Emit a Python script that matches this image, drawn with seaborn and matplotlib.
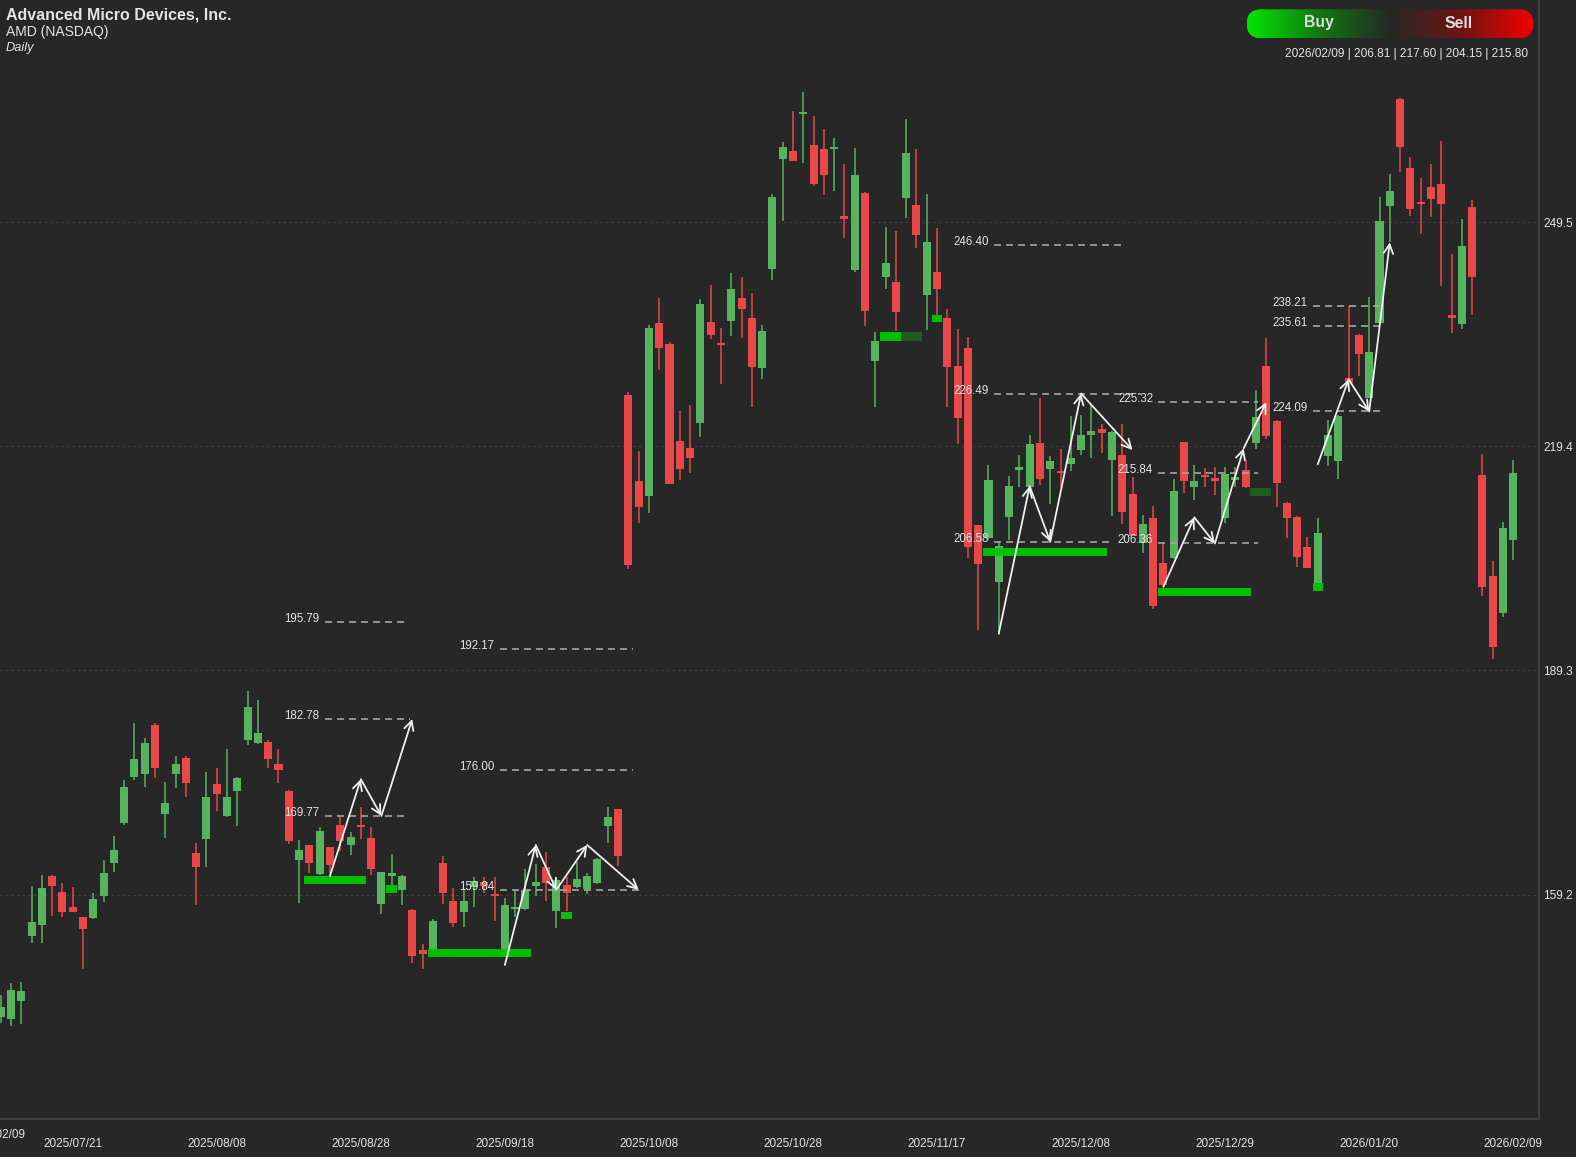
import numpy as np
import pandas as pd
import matplotlib.pyplot as plt
import seaborn as sns
from matplotlib.patches import FancyBboxPatch

# ============================================================
# DATA  (AMD daily candles)
# ============================================================
opens = [142.8, 142.45, 144.95, 153.6, 155.1, 161.7, 159.55, 157.5, 156.15, 156.0,
         159.0, 163.4, 168.85, 175.0, 175.4, 182.0, 170.0, 175.35, 177.5, 164.8,
         166.7, 174.0, 169.8, 173.15, 179.9, 179.6, 179.7, 176.75, 173.1, 163.9,
         165.8, 161.95, 165.55, 168.55, 165.85, 168.5, 166.75, 157.9, 161.7, 159.8,
         157.1, 151.76, 151.85, 163.5, 158.34, 156.9, 160.2, 160.9, 159.3, 150.8,
         157.2, 157.27, 160.4, 162.95, 157.04, 160.5, 160.26, 159.9, 160.8, 168.45,
         170.65, 226.3, 214.75, 212.7, 236.0, 233.2, 220.1, 219.2, 222.5, 236.1,
         233.2, 236.3, 239.3, 236.6, 229.96, 243.2, 258.0, 259.05, 264.0, 259.87,
         259.3, 259.3, 250.3, 243.05, 253.4, 230.86, 242.1, 241.5, 252.75, 251.84,
         239.7, 242.76, 236.7, 230.2, 232.57, 208.84, 207.05, 201.2, 209.95, 216.2,
         213.9, 219.9, 216.3, 216.1, 217.0, 218.9, 220.9, 221.7, 217.6, 218.3,
         212.96, 206.46, 209.8, 203.78, 204.36, 219.94, 213.98, 215.5, 215.0, 209.8,
         214.85, 216.22, 219.81, 230.23, 222.8, 211.83, 209.95, 205.84, 201.0, 218.1,
         217.45, 228.6, 234.34, 225.96, 235.96, 251.62, 266.0, 256.77, 252.2, 254.25,
         254.65, 236.9, 235.8, 251.5, 215.6, 201.96, 197.06, 206.81]
highs = [145.7, 147.3, 147.5, 160.3, 161.8, 161.8, 160.7, 160.2, 156.2, 159.4,
         163.85, 167.1, 174.6, 182.2, 180.2, 182.3, 174.3, 177.8, 177.8, 166.1,
         175.6, 176.2, 178.7, 175.0, 186.6, 185.3, 179.95, 178.7, 173.2, 166.5,
         165.9, 168.3, 165.6, 169.65, 167.57, 170.9, 168.3, 162.3, 164.65, 161.8,
         157.2, 152.57, 155.9, 164.4, 160.05, 159.9, 161.6, 161.5, 161.5, 158.7,
         159.8, 162.6, 163.27, 164.96, 161.6, 161.6, 163.6, 162.1, 164.07, 170.9,
         170.7, 226.7, 218.8, 235.7, 239.3, 233.4, 224.15, 224.9, 239.15, 241.1,
         235.25, 242.7, 242.2, 240.0, 235.7, 253.25, 260.3, 264.45, 266.95, 263.74,
         262.0, 260.8, 257.3, 259.5, 253.5, 234.7, 248.8, 248.3, 263.4, 259.4,
         253.3, 248.7, 237.9, 235.2, 234.1, 208.9, 216.9, 206.6, 215.4, 218.2,
         220.9, 225.85, 218.1, 219.0, 223.5, 223.6, 224.95, 222.4, 221.4, 222.4,
         215.26, 210.2, 211.4, 206.29, 215.0, 220.0, 216.9, 216.5, 216.67, 216.67,
         216.67, 217.57, 226.97, 233.9, 222.9, 211.9, 210.0, 207.2, 209.8, 223.0,
         223.55, 238.2, 234.45, 239.4, 252.9, 256.0, 266.2, 258.2, 255.5, 257.3,
         260.46, 245.2, 249.95, 252.5, 218.4, 204.0, 209.3, 217.60]
lows = [141.9, 141.5, 141.8, 152.7, 152.7, 156.3, 156.2, 156.8, 149.25, 155.9,
        158.25, 162.3, 168.6, 174.6, 173.7, 174.8, 166.8, 173.5, 172.3, 157.8,
        162.95, 170.4, 169.6, 168.4, 179.25, 179.4, 176.2, 174.2, 165.95, 158.1,
        162.1, 161.8, 161.95, 165.0, 164.5, 166.6, 161.8, 156.6, 160.35, 157.75,
        150.05, 149.17, 151.5, 157.9, 154.9, 154.8, 157.6, 159.4, 155.7, 150.8,
        156.2, 157.1, 159.0, 158.4, 154.67, 157.04, 160.05, 159.28, 160.6, 166.1,
        163.04, 202.9, 209.15, 210.5, 229.65, 214.3, 214.9, 215.8, 220.7, 233.8,
        227.8, 234.2, 233.9, 224.7, 228.45, 241.7, 249.7, 257.7, 257.4, 254.4,
        253.2, 253.75, 247.35, 242.8, 235.6, 224.64, 240.5, 234.9, 250.1, 246.0,
        235.0, 237.1, 224.7, 219.7, 204.4, 194.8, 206.8, 194.07, 206.8, 213.98,
        213.1, 214.2, 211.66, 213.98, 216.1, 218.2, 217.8, 218.5, 210.05, 208.97,
        207.3, 205.04, 197.5, 200.56, 204.3, 213.1, 212.2, 213.9, 212.87, 209.06,
        214.0, 213.8, 219.1, 220.4, 211.3, 207.05, 203.2, 203.0, 201.0, 216.8,
        215.0, 227.4, 228.9, 225.9, 235.9, 246.8, 256.3, 250.36, 247.9, 250.2,
        240.9, 234.6, 235.1, 237.1, 199.3, 190.85, 196.45, 204.15]
closes = [144.1, 146.4, 146.2, 155.5, 160.05, 160.3, 156.8, 156.85, 154.55, 158.6,
          162.1, 165.2, 173.6, 177.4, 179.5, 176.2, 171.55, 176.7, 174.2, 162.95,
          172.35, 172.7, 172.3, 174.9, 184.35, 180.85, 177.4, 175.9, 166.4, 165.15,
          163.5, 167.75, 163.2, 166.45, 167.0, 168.3, 162.6, 162.3, 162.05, 161.7,
          150.95, 151.22, 155.7, 159.37, 155.4, 158.4, 161.0, 160.35, 159.0, 157.8,
          157.36, 159.8, 160.85, 160.7, 161.16, 159.37, 161.25, 161.7, 163.94, 169.66,
          164.4, 203.47, 211.3, 235.3, 232.65, 214.4, 216.3, 217.9, 238.5, 234.35,
          233.0, 240.5, 237.85, 230.1, 234.9, 252.85, 259.65, 257.75, 264.3, 254.66,
          255.86, 259.6, 250.0, 255.86, 237.55, 233.6, 244.0, 237.5, 258.8, 247.8,
          246.8, 240.5, 230.1, 223.2, 205.84, 203.6, 214.9, 206.0, 214.07, 216.67,
          219.7, 215.0, 217.5, 215.8, 217.8, 220.9, 221.5, 221.2, 221.37, 210.6,
          207.36, 208.97, 197.96, 200.78, 213.4, 214.79, 214.75, 215.3, 214.8, 215.65,
          215.25, 214.0, 223.38, 220.83, 214.44, 209.8, 204.5, 203.1, 207.7, 220.95,
          223.5, 227.9, 231.77, 232.02, 249.7, 253.74, 259.6, 251.27, 251.95, 252.63,
          251.98, 236.7, 246.3, 242.1, 200.45, 192.5, 208.43, 215.80]

holidays = ["2025-09-01", "2025-11-27", "2025-12-25", "2026-01-01", "2026-01-19"]
dates = pd.bdate_range("2025-07-10", "2026-02-09", freq="C", holidays=holidays)

y_ticks = [159.2, 189.3, 219.4, 249.5]

# dashed price levels (value, first bar, last bar)
level_values = [195.79, 182.78, 169.77, 192.17, 176.00, 159.84, 246.40, 226.49, 206.58,
                225.32, 215.84, 206.36, 238.21, 235.61, 224.09]
level_start = [31.5, 31.5, 31.5, 48.5, 48.5, 48.5, 96.5, 96.5, 96.5,
               112.5, 112.5, 112.5, 127.5, 127.5, 127.5]
level_end = [39.5, 39.8, 39.5, 61.5, 61.5, 62.1, 109.4, 110.8, 108.2,
             122.2, 122.2, 122.2, 134.2, 134.2, 134.2]

# projected zig-zag paths (bar index, price)
path_x = [[32, 35, 37, 40],
          [49, 52, 54, 57, 62],
          [97, 100, 102, 105, 110],
          [113, 116, 118, 120.8, 123],
          [128, 131, 133, 135]]
path_y = [[161.7, 174.7, 169.77, 182.78],
          [149.75, 165.86, 159.84, 165.86, 159.84],
          [194.3, 214.07, 206.58, 226.49, 218.9],
          [200.55, 209.87, 206.36, 219.14, 225.32],
          [217.0, 228.4, 224.09, 246.8]]

# green zone markers
zone_x0 = [29.5, 41.5, 95.5, 112.5, 37.45, 54.5, 90.5, 127.5, 85.5]
zone_x1 = [35.5, 51.5, 107.5, 121.5, 38.5, 55.5, 91.5, 128.5, 87.5]
zone_lo = [160.6, 150.86, 204.7, 199.3, 159.45, 155.9, 236.1, 200.0, 233.6]
zone_hi = [161.7, 151.85, 205.7, 200.4, 160.5, 156.9, 237.0, 201.0, 234.7]
dark_x0 = [87.5, 121.4]
dark_x1 = [89.5, 123.5]
dark_lo = [233.6, 212.8]
dark_hi = [234.7, 213.85]

# ============================================================
# STYLE
# ============================================================
BG = "#272727"
UP = "#57b45e"
DOWN = "#e84848"
TXT = "#e4e4e4"
W, H = 1576, 1157

sns.set_theme(style="dark", rc={"axes.facecolor": BG, "figure.facecolor": BG})
plt.rcParams["font.family"] = ["Liberation Sans", "DejaVu Sans"]

df = pd.DataFrame({"date": dates, "open": opens, "high": highs, "low": lows, "close": closes})
df["idx"] = np.arange(len(df))
df["up"] = df["close"] >= df["open"]
colors = np.where(df["up"], UP, DOWN)

fig = plt.figure(figsize=(W / 100, H / 100), dpi=100)
ax = fig.add_axes([0, 38 / H, 1539 / W, 1119 / H])

ax.set_ylim(129.06, 279.35)
ax.set_xlim(-0.065, 149.5)

# ============================================================
# CANDLES
# ============================================================
ax.vlines(df["idx"], df["low"], df["high"], colors=colors, lw=1.1, zorder=2)
body_lo = np.minimum(df["open"], df["close"])
body_h = np.maximum((df["close"] - df["open"]).abs(), 0.3)
ax.bar(df["idx"], body_h, bottom=body_lo, width=0.78, color=colors, linewidth=0, zorder=3)

# green zones
ax.bar(zone_x0, np.array(zone_hi) - np.array(zone_lo), bottom=zone_lo,
       width=np.array(zone_x1) - np.array(zone_x0), align="edge",
       color="#00c800", alpha=0.95, linewidth=0, zorder=4)
ax.bar(dark_x0, np.array(dark_hi) - np.array(dark_lo), bottom=dark_lo,
       width=np.array(dark_x1) - np.array(dark_x0), align="edge",
       color="#1e5c1e", linewidth=0, zorder=4)

# dashed levels + labels
ax.hlines(level_values, level_start, level_end, colors="#a6a6a6",
          linestyles=(0, (4.2, 3.0)), lw=1.2, zorder=5)
for v, s in zip(level_values, level_start):
    ax.text(s - 0.5, v, f"{v:.2f}", color=TXT, fontsize=8.3,
            ha="right", va="baseline", zorder=6)

# zig-zag arrows
for xs, ys in zip(path_x, path_y):
    for i in range(len(xs) - 1):
        ax.annotate("", xy=(xs[i + 1], ys[i + 1]), xytext=(xs[i], ys[i]),
                    arrowprops=dict(arrowstyle="->,head_length=0.55,head_width=0.28",
                                    color="#f0f0f0", lw=1.3, shrinkA=0, shrinkB=0,
                                    mutation_scale=12),
                    zorder=7)

# ============================================================
# AXES
# ============================================================
ax.grid(False)
ax.set_yticks(y_ticks)
ax.set_yticklabels([f"{v:.1f}" for v in y_ticks])
ax.yaxis.tick_right()
for v in y_ticks:
    ax.axhline(v, color="#404040", lw=0.8, linestyle=(0, (2, 3)), zorder=1)

tick_pos = df["idx"].values[7::14]
ax.set_xticks(tick_pos)
ax.set_xticklabels(df["date"].iloc[7::14].dt.strftime("%Y/%m/%d"))
ax.tick_params(axis="x", length=0, pad=13.5, colors=TXT, labelsize=8.5)
ax.tick_params(axis="y", length=0, pad=3, colors=TXT, labelsize=8.6)
for side in ["top", "left"]:
    ax.spines[side].set_visible(False)
for side in ["right", "bottom"]:
    ax.spines[side].set_color("#3e3e3e")
    ax.spines[side].set_linewidth(1.6)


def fx(px):
    return px / W


def fy(py):
    return 1 - py / H


# clipped last-date label at far left
fig.text(fx(25), fy(1137.5), df["date"].iloc[-1].strftime("%Y/%m/%d"),
         color=TXT, fontsize=8.5, ha="right", va="baseline")

# header
fig.text(fx(6), fy(19.3), "Advanced Micro Devices, Inc.", color=TXT,
         fontsize=11.5, fontweight="bold", ha="left", va="baseline")
fig.text(fx(6), fy(35.8), "AMD (NASDAQ)", color=TXT, fontsize=10,
         ha="left", va="baseline")
fig.text(fx(6), fy(51.5), "Daily", color=TXT, fontsize=9.2, style="italic",
         ha="left", va="baseline")

# buy / sell pill with gradient
bx0, bx1, by0, by1 = 1246.7, 1533.3, 9.3, 38.3
bw, bh = bx1 - bx0, by1 - by0
bax = fig.add_axes([fx(bx0), fy(by1), bw / W, bh / H])
bax.axis("off")
stops = np.array([[0, 230, 0], [18, 120, 18], [38, 40, 36], [110, 20, 20], [245, 0, 0]]) / 255
pos = np.linspace(0, 1, len(stops))
t = np.linspace(0, 1, 400)
grad = np.stack([np.interp(t, pos, stops[:, k]) for k in range(3)], axis=-1)[None, :, :]
im = bax.imshow(grad, aspect="auto", extent=[0, bw, 0, bh])
bax.set_xlim(0, bw)
bax.set_ylim(0, bh)
pill = FancyBboxPatch((0, 0), bw, bh, boxstyle=f"round,pad=0,rounding_size={bh / 2}",
                      transform=bax.transData, facecolor="none", edgecolor="none")
bax.add_patch(pill)
im.set_clip_path(pill)
fig.text(fx(1319), fy(27.5), "Buy", color="#dedede", fontsize=11.3,
         fontweight="bold", ha="center", va="baseline")
fig.text(fx(1458.3), fy(27.5), "Sell", color="#dedede", fontsize=11.3,
         fontweight="bold", ha="center", va="baseline")

last = df.iloc[-1]
fig.text(fx(1528.3), fy(56.5),
         f"{last['date']:%Y/%m/%d} | {last['open']:.2f} | {last['high']:.2f} | "
         f"{last['low']:.2f} | {last['close']:.2f}",
         color=TXT, fontsize=8.6, ha="right", va="baseline")

fig.savefig("out.png", dpi=100, facecolor=BG)
